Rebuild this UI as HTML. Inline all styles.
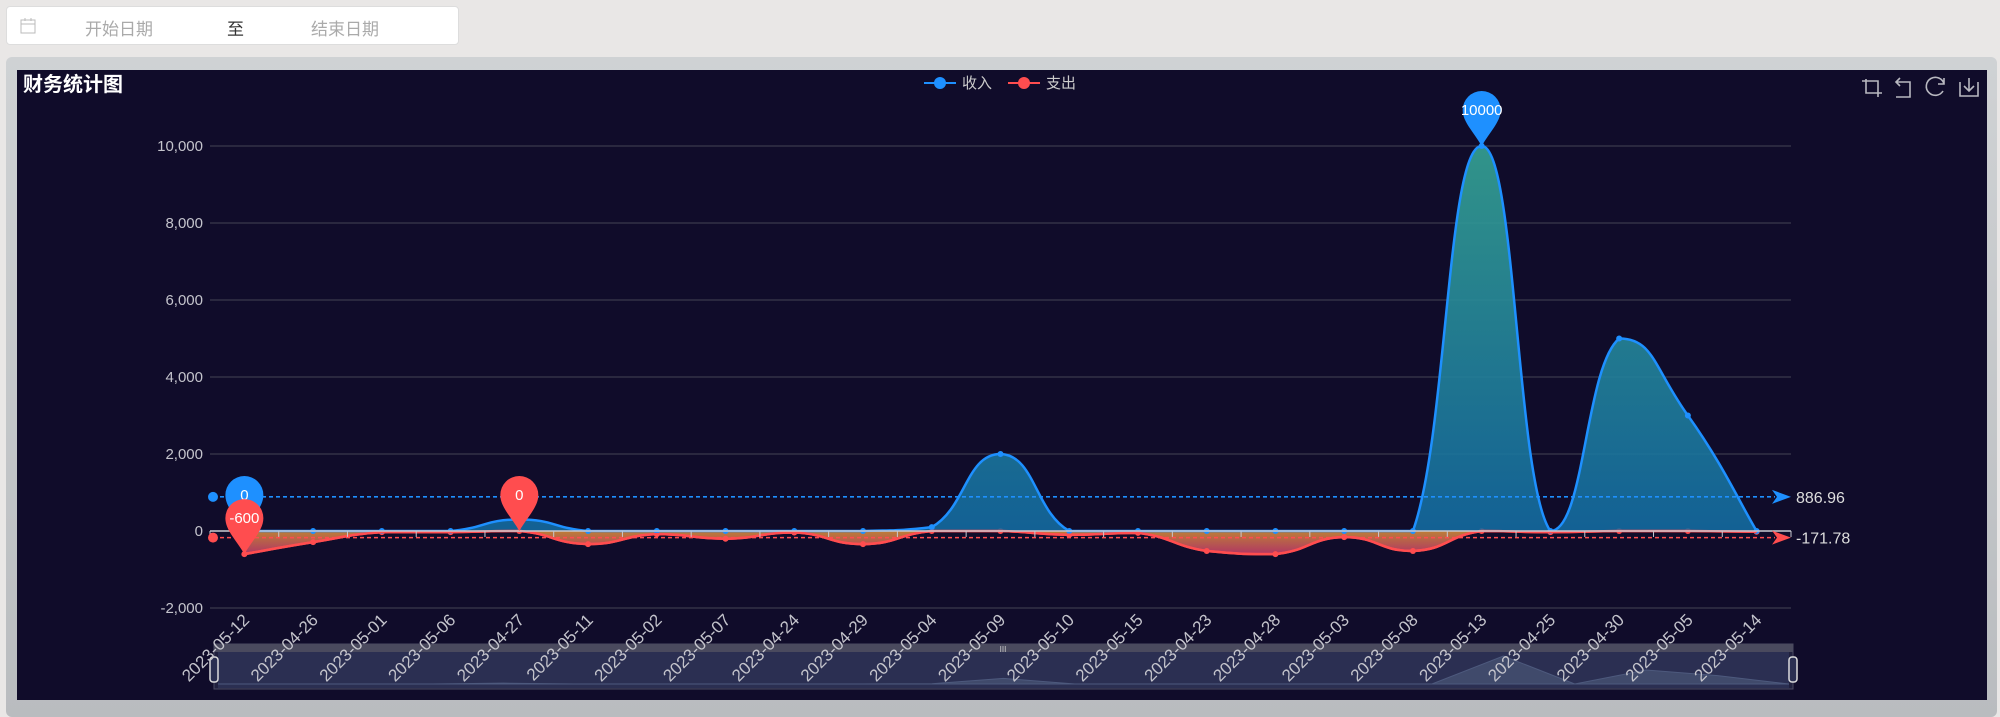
<!DOCTYPE html>
<html><head><meta charset="utf-8">
<style>
html,body{margin:0;padding:0;width:2000px;height:705px;overflow:hidden;background:#e9e7e6;font-family:"Liberation Sans","Noto Sans CJK SC",sans-serif;}
#datebox{position:absolute;left:6px;top:6px;width:453px;height:39px;background:#fff;border-radius:4px;border:1px solid #ddd;box-sizing:border-box;}
#datebox span{position:absolute;top:8px;font-size:17px;color:#aaa;}
#panel{position:absolute;left:6px;top:57px;width:1991px;height:660px;background:linear-gradient(#cfd2d4,#b9bcbf);border-radius:6px;}
#chart{position:absolute;left:17px;top:70px;width:1970px;height:630px;background:#100c2a;}
svg{position:absolute;left:0;top:0;}
</style></head><body>
<div id="datebox">
  <svg width="20" height="20" style="left:11px;top:9px"><rect x="3" y="4" width="14" height="13" fill="none" stroke="#bbb"/><line x1="3" y1="8" x2="17" y2="8" stroke="#bbb"/><line x1="7" y1="2" x2="7" y2="5" stroke="#bbb"/><line x1="13" y1="2" x2="13" y2="5" stroke="#bbb"/></svg>
  <span style="left:78px">开始日期</span>
  <span style="left:220px;color:#333">至</span>
  <span style="left:304px">结束日期</span>
</div>
<div id="panel"></div>
<div id="chart"></div>
<svg id="svg" width="2000" height="705"></svg>
<script>
const categories=["2023-05-12","2023-04-26","2023-05-01","2023-05-06","2023-04-27","2023-05-11","2023-05-02","2023-05-07","2023-04-24","2023-04-29","2023-05-04","2023-05-09","2023-05-10","2023-05-15","2023-04-23","2023-04-28","2023-05-03","2023-05-08","2023-05-13","2023-04-25","2023-04-30","2023-05-05","2023-05-14"];
const incomeValues=[0,0,0,0,300,0,0,0,0,0,100,2000,0,0,0,0,0,0,10000,0,5000,3000,0];
const expenseValues=[-600,-290,-30,-30,0,-340,-80,-200,-40,-340,0,0,-100,-50,-520,-600,-160,-520,0,-30,0,0,-21];
const yTicks=[-2000,0,2000,4000,6000,8000,10000];
const yTickLabels=["-2,000","0","2,000","4,000","6,000","8,000","10,000"];

const NS="http://www.w3.org/2000/svg";
const svg=document.getElementById('svg');
const L=210,R=1791;
const n=categories.length, step=(R-L)/n;
const xs=i=>L+step*(i+0.5);
const ys=v=>531-v*(77/2000);
function el(t,a,p){const e=document.createElementNS(NS,t);for(const k in a)e.setAttribute(k,a[k]);(p||svg).appendChild(e);return e;}
function txt(s,a){const e=el('text',a);e.textContent=s;return e;}

const defs=el('defs',{});
defs.innerHTML='<linearGradient id="gi" x1="0" y1="0" x2="0" y2="1"><stop offset="0" stop-color="#35a394"/><stop offset="1" stop-color="#136aa0"/></linearGradient><linearGradient id="ge" x1="0" y1="0" x2="0" y2="1"><stop offset="0" stop-color="#d08a3a"/><stop offset="1" stop-color="#c23c6a"/></linearGradient>';

// title
let t=txt('财务统计图',{x:23,y:91,fill:'#fff','font-size':20,'font-weight':'bold'});


// legend
[[924,'#1e90ff','收入','legend-income'],[1008,'#ff4d4f','支出','legend-expense']].forEach(d=>{
  const g=el('g',{});
  
  
  el('line',{x1:d[0],y1:83,x2:d[0]+32,y2:83,stroke:d[1],'stroke-width':2},g);
  el('circle',{cx:d[0]+16,cy:83,r:6,fill:d[1]},g);
  const tt=el('text',{x:d[0]+38,y:88,fill:'#ccc','font-size':15},g);tt.textContent=d[2];
});

// toolbox
const tb=el('g',{fill:'none',stroke:'#b8b8c0','stroke-width':1.6});


tb.innerHTML='<path d="M1862 81h16v16M1866 79v14h16"/><path d="M1896 82h14v15h-14M1900 78l-4 4 4 4"/><path d="M1944 84a9 9 0 1 0 -1 7M1944 78v6h-6"/><path d="M1960 82v14h18v-14M1969 78v13M1964 86l5 5 5-5"/>';

// grid + y labels
yTicks.forEach((v,i)=>{
  const y=ys(v);
  const g=el('line',{x1:L,y1:y,x2:R,y2:y,stroke:'#3b3a4c','stroke-width':1.3});
  
  const l=txt(yTickLabels[i],{x:203,y:y+5,fill:'#c4c4cc','font-size':15,'text-anchor':'end'});
  
  
});

// data zoom slider
const dz=el('g',{});


el('rect',{x:214,y:644,width:1579,height:45,fill:'#20203e',stroke:'#4a4a62'},dz);
el('rect',{x:214,y:644,width:1579,height:8,fill:'#4a4a5e'},dz);
el('rect',{x:218,y:652,width:1571,height:36,fill:'#2b2f52'},dz);
const mx=i=>218+i*(1571/(n-1)), my=v=>684-v*0.0028;
let md='M218 684';incomeValues.forEach((v,i)=>md+=` L${mx(i)} ${my(v)}`);md+=' L1789 684 Z';
el('path',{d:md,fill:'#4a5676',opacity:0.7,stroke:'#5c6c90'},dz);
el('text',{x:1003,y:652,fill:'#ccc','font-size':8,'text-anchor':'middle'},dz).textContent='III';
[214,1793].forEach(x=>{
  const h=el('rect',{x:x-4,y:657,width:8,height:25,rx:3,fill:'#2b2f52',stroke:'#dcdcdc','stroke-width':1.5},dz);
  
  
});

// smooth path
function pts(vals){return vals.map((v,i)=>[xs(i),ys(v)]);}
function smooth(p){
  let d='M'+p[0][0]+' '+p[0][1];
  for(let i=0;i<p.length-1;i++){
    const p0=p[Math.max(i-1,0)],p1=p[i],p2=p[i+1],p3=p[Math.min(i+2,p.length-1)];
    const lo=Math.min(p1[1],p2[1]),hi=Math.max(p1[1],p2[1]);
    const c1x=p1[0]+(p2[0]-p0[0])*0.25, c1y=Math.min(hi,Math.max(lo,p1[1]+(p2[1]-p0[1])*0.25));
    const c2x=p2[0]-(p3[0]-p1[0])*0.25, c2y=Math.min(hi,Math.max(lo,p2[1]-(p3[1]-p1[1])*0.25));
    d+=` C${c1x} ${c1y} ${c2x} ${c2y} ${p2[0]} ${p2[1]}`;
  }
  return d;
}
const y0=ys(0);
function series(vals,color,grad,name){
  const p=pts(vals);const d=smooth(p);
  const a=el('path',{d:d+` L${p[p.length-1][0]} ${y0} L${p[0][0]} ${y0} Z`,fill:`url(#${grad})`,opacity:0.9});
  
  const ln=el('path',{d:d,fill:'none',stroke:color,'stroke-width':2.5});
  
  
  p.forEach(q=>{const c=el('circle',{cx:q[0],cy:q[1],r:3,fill:color});
    
    });
}
series(expenseValues,'#ff4d4f','ge','expense');
series(incomeValues,'#1e90ff','gi','income');
(function(){const ln=el('path',{d:smooth(pts(expenseValues)),fill:'none',stroke:'#ff4d4f','stroke-width':2.5});
})();

// x axis
const ax=el('line',{x1:L,y1:y0,x2:R,y2:y0,stroke:'#c8c8d0','stroke-width':1.5});

for(let i=0;i<=n;i++){el('line',{x1:L+step*i,y1:y0,x2:L+step*i,y2:y0+6,stroke:'#c8c8d0'});}
categories.forEach((c,i)=>{
  const x=xs(i)+6,y=621;
  const l=txt(c,{x:x,y:y,fill:'#c4c4cc','font-size':17,'text-anchor':'end',transform:`rotate(-45 ${x} ${y})`});
  
  
});

// average mark lines
const avgI=incomeValues.reduce((a,b)=>a+b,0)/n, avgE=expenseValues.reduce((a,b)=>a+b,0)/n;
[[avgI,'#1e90ff','income-average-line'],[avgE,'#ff4d4f','expense-average-line']].forEach(d=>{
  const y=ys(d[0]);
  const g=el('g',{});
  
  
  el('circle',{cx:213,cy:y,r:5,fill:d[1]},g);
  el('line',{x1:213,y1:y,x2:1775,y2:y,stroke:d[1],'stroke-width':1.6,'stroke-dasharray':'4 3'},g);
  el('path',{d:`M1772 ${y-7} L1791 ${y} L1772 ${y+7} L1777 ${y} Z`,fill:d[1]},g);
  const tt=el('text',{x:1796,y:y+6,fill:'#ddd','font-size':16},g);tt.textContent=d[0].toFixed(2);
});

// mark points (pins)
function pin(i,v,color,label,name){
  const x=xs(i),tip=ys(v),cy=tip-36,r=19;
  const g=el('g',{});
  
  
  el('path',{d:`M${x} ${tip} C${x-8} ${cy+22} ${x-r} ${cy+12} ${x-r} ${cy} A${r} ${r} 0 1 1 ${x+r} ${cy} C${x+r} ${cy+12} ${x+8} ${cy+22} ${x} ${tip} Z`,fill:color},g);
  const tt=el('text',{x:x,y:cy+5,fill:'#fff','font-size':15,'text-anchor':'middle'},g);tt.textContent=label;
}
const maxI=Math.max(...incomeValues),minI=Math.min(...incomeValues);
const maxE=Math.max(...expenseValues),minE=Math.min(...expenseValues);
pin(incomeValues.indexOf(maxI),maxI,'#1e90ff',String(maxI),'income-max-pin');
pin(incomeValues.indexOf(minI),minI,'#1e90ff',String(minI),'income-min-pin');
pin(expenseValues.indexOf(maxE),maxE,'#ff4d4f',String(maxE),'expense-max-pin');
pin(expenseValues.indexOf(minE),minE,'#ff4d4f',String(minE),'expense-min-pin');
</script>
</body></html>
